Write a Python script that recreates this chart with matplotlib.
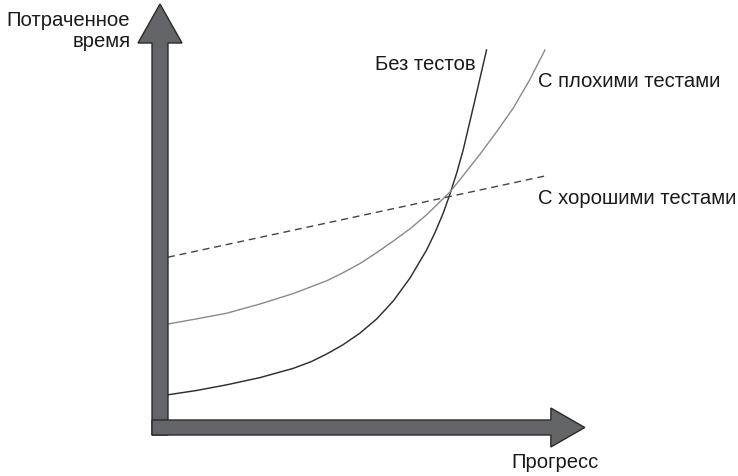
import matplotlib
matplotlib.use('Agg')
import matplotlib.pyplot as plt
from matplotlib.patches import FancyArrow

plt.rcParams['font.family'] = ['Liberation Sans', 'DejaVu Sans']

# данные (условные единицы: прогресс 0..10, время 0..10)
good_x = [0.0, 10.0]
good_y = [4.07, 6.10]

bad_x = [0.0, 0.77, 1.56, 2.44, 3.32, 4.21, 4.64, 5.09, 5.53, 5.97, 6.42, 6.86,
         7.48, 7.88, 8.28, 8.72, 9.16, 9.58, 10.0]
bad_y = [2.40, 2.53, 2.67, 2.90, 3.16, 3.48, 3.68, 3.91, 4.18, 4.47, 4.78, 5.13,
         5.70, 6.17, 6.65, 7.21, 7.80, 8.48, 9.25]

none_x = [0.0, 0.77, 1.56, 2.44, 3.32, 3.80, 4.21, 4.64, 5.09, 5.54, 5.98, 6.42,
          6.86, 7.08, 7.30, 7.48, 7.66, 7.83, 8.10, 8.45]
none_y = [0.63, 0.74, 0.88, 1.06, 1.29, 1.46, 1.65, 1.88, 2.17, 2.53, 2.98, 3.55,
          4.25, 4.68, 5.17, 5.65, 6.18, 6.75, 7.83, 9.25]

fig = plt.figure(figsize=(7.38, 4.76), dpi=100)
ax = fig.add_axes([0, 0, 1, 1])
ax.set_xlim(-4.456, 15.12)
ax.set_ylim(-1.4, 10.5)
ax.axis('off')

# кривые
ax.plot(none_x, none_y, color='#2e2e2e', lw=1.05, zorder=3)
ax.plot(bad_x, bad_y, color='#8a8a8a', lw=1.0, zorder=3)
ax.plot(good_x, good_y, color='#444444', lw=1.0, dashes=(5, 3.5), zorder=3)

# оси-стрелки
arrow_fc = '#646568'
arrow_ec = '#2a2a2a'
ax.add_patch(FancyArrow(-0.212, -0.375, 0, 10.775, width=0.424, head_width=1.167,
                        head_length=0.975, length_includes_head=True,
                        fc=arrow_fc, ec=arrow_ec, lw=1.0, zorder=4))
ax.add_patch(FancyArrow(-0.424, -0.1875, 11.48, 0, width=0.375, head_width=0.975,
                        head_length=0.9, length_includes_head=True,
                        fc=arrow_fc, ec=arrow_ec, lw=1.0, zorder=4))

fs = 14.6
ax.text(-1.0, 10.22, 'Потраченное\nвремя', ha='right', va='top', fontsize=fs,
        color='#1a1a1a', linespacing=1.15)
ax.text(8.16, 8.75, 'Без тестов', ha='right', va='baseline', fontsize=fs, color='#1a1a1a')
ax.text(9.81, 8.33, 'С плохими тестами', ha='left', va='baseline', fontsize=fs, color='#1a1a1a')
ax.text(9.81, 5.39, 'С хорошими тестами', ha='left', va='baseline', fontsize=fs, color='#1a1a1a')
ax.text(9.12, -1.2, 'Прогресс', ha='left', va='baseline', fontsize=fs, color='#1a1a1a')

fig.savefig('out.png', dpi=100)
